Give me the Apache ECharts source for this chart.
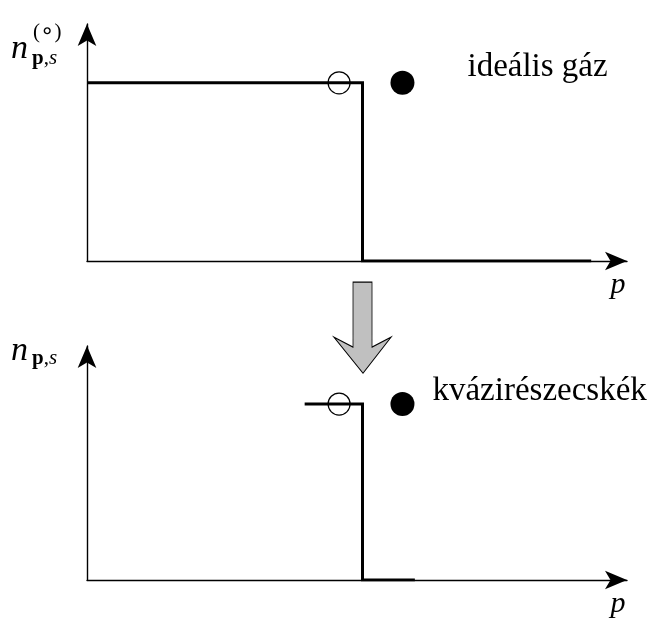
<!DOCTYPE html>
<html>
<head>
<meta charset="utf-8">
<script src="https://cdn.jsdelivr.net/npm/echarts@6/dist/echarts.min.js"></script>
<style>
  html, body { margin: 0; padding: 0; background: #fff; }
  #chart { width: 651px; height: 619px; }
</style>
</head>
<body>
<div id="chart"></div>
<script>
// Occupation number n(p) as a step at the Fermi momentum (p measured in units of p_F).
const fermiMomentum = 1;
// Ideal gas: n = 1 below p_F, 0 above.
const idealStep = [[0, 1], [fermiMomentum, 1], [fermiMomentum, 0], [1.83, 0]];
// Quasiparticles: only the neighbourhood of the Fermi surface matters.
const quasiStep = [[0.79, 1], [fermiMomentum, 1], [fermiMomentum, 0], [1.19, 0]];
// Hole (hollow) and particle (filled) excitations next to the step.
const holePoints = [[0.915, 1]];
const particlePoints = [[1.145, 1]];
// Arrow between the two panels (ideal gas -> quasiparticles).
const transitionArrow = [[fermiMomentum, -0.374]];
const panelTitles = ['ideális gáz', 'kvázirészecskék'];
const xAxisName = 'p';

const X_MAX = 1.96;
const Y_MAX = 1.33;
const serif = '"Liberation Serif", "DejaVu Serif", serif';
const arrowPath = 'path://M19,0L38,0L38,65L57,55L29,91L0,55L19,65Z';

function axisLine() {
  return {
    show: true,
    symbol: ['none', 'arrow'],
    symbolSize: [14, 22],
    lineStyle: { color: '#000', width: 1.4 }
  };
}
function xAxis(gridIndex) {
  return {
    type: 'value', gridIndex, min: 0, max: X_MAX,
    axisLine: axisLine(), axisTick: { show: false }, axisLabel: { show: false },
    splitLine: { show: false },
    name: xAxisName, nameLocation: 'end', nameGap: -9,
    nameTextStyle: {
      fontFamily: serif, fontStyle: 'italic', fontSize: 30, color: '#000',
      align: 'center', verticalAlign: 'top', padding: [9, 0, 0, 0]
    }
  };
}
function yAxis(gridIndex) {
  return {
    type: 'value', gridIndex, min: 0, max: Y_MAX,
    axisLine: axisLine(), axisTick: { show: false }, axisLabel: { show: false },
    splitLine: { show: false }
  };
}
function stepSeries(idx, data) {
  return {
    type: 'line', xAxisIndex: idx, yAxisIndex: idx, data,
    showSymbol: false, silent: true, z: 3,
    lineStyle: { color: '#000', width: 3, join: 'miter', cap: 'butt' }
  };
}
function holeSeries(idx) {
  return {
    type: 'scatter', xAxisIndex: idx, yAxisIndex: idx, data: holePoints,
    symbol: 'circle', symbolSize: 22, z: 4,
    itemStyle: { color: 'rgba(255,255,255,0)', borderColor: '#000', borderWidth: 1.2, opacity: 1 }
  };
}
function particleSeries(idx, distance, dy) {
  return {
    type: 'scatter', xAxisIndex: idx, yAxisIndex: idx, data: particlePoints,
    symbol: 'circle', symbolSize: 24, z: 4,
    itemStyle: { color: '#000', opacity: 1 },
    label: {
      show: true, position: 'right', distance, offset: [0, dy],
      formatter: panelTitles[idx],
      fontFamily: serif, fontSize: 33, color: '#000', opacity: 1
    }
  };
}

// Axis titles n_{p,s}^{(∘)} and n_{p,s}
const nLabel = (top, nY, subY, supY) => {
  const els = [
    { type: 'text', left: 11, top: nY - 17,
      style: { text: 'n', fontFamily: serif, fontStyle: 'italic', fontSize: 34, fill: '#000' } },
    { type: 'text', left: 32, top: subY - 11,
      style: {
        text: '{b|p}{r|,}{i|s}', fill: '#000',
        rich: {
          b: { fontFamily: serif, fontWeight: 'bold', fontSize: 21 },
          r: { fontFamily: serif, fontSize: 21 },
          i: { fontFamily: serif, fontStyle: 'italic', fontSize: 21 }
        }
      } }
  ];
  if (top) {
    els.push({ type: 'text', left: 33, top: supY - 11,
      style: {
        text: '{a|(}{c|∘}{a|)}', fill: '#000',
        rich: {
          a: { fontFamily: serif, fontSize: 21 },
          c: { fontFamily: '"DejaVu Sans", sans-serif', fontSize: 23 }
        }
      } });
  }
  return els;
};

const chart = echarts.init(document.getElementById('chart'), null, { renderer: 'canvas' });
chart.setOption({
  animation: false,
  backgroundColor: '#fff',
  grid: [
    { left: 87, top: 24, width: 540, height: 237 },
    { left: 87, top: 346, width: 540, height: 236 }
  ],
  xAxis: [xAxis(0), xAxis(1)],
  yAxis: [yAxis(0), yAxis(1)],
  series: [
    stepSeries(0, idealStep),
    holeSeries(0),
    particleSeries(0, 53, -15),
    {
      type: 'scatter', xAxisIndex: 0, yAxisIndex: 0, data: transitionArrow,
      symbol: arrowPath, symbolSize: [57, 91], clip: false, z: 2,
      itemStyle: { color: '#c0c0c0', borderColor: '#000', borderWidth: 1, opacity: 1 }
    },
    stepSeries(1, quasiStep),
    holeSeries(1),
    particleSeries(1, 18, -13)
  ],
  graphic: [].concat(nLabel(true, 49, 59, 32), nLabel(false, 351, 359, 0))
});
</script>
</body>
</html>
